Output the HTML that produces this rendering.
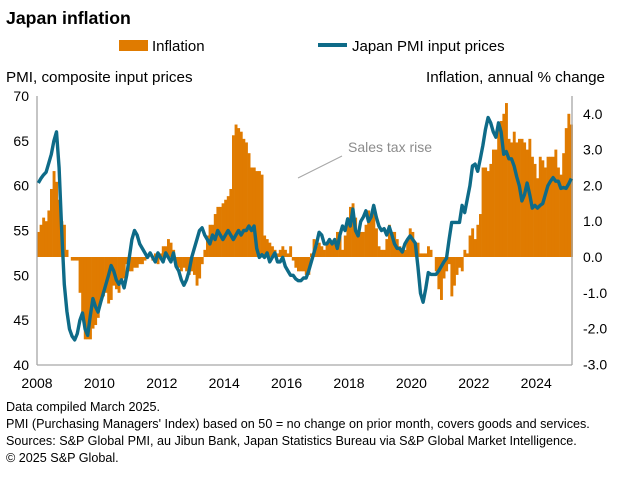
<!DOCTYPE html>
<html><head><meta charset="utf-8"><style>
body{margin:0;background:#fff;width:632px;height:489px;overflow:hidden;font-family:"Liberation Sans",Arial,sans-serif}
svg text{font-family:"Liberation Sans",Arial,sans-serif}
</style></head><body>
<svg id="chart" width="632" height="489" viewBox="0 0 632 489" xmlns="http://www.w3.org/2000/svg">
<text x="6" y="24" font-size="17.7" font-weight="bold" fill="#000">Japan inflation</text>
<g>
<rect x="119" y="40" width="29" height="11" fill="#e07b00"/>
<text x="152" y="51" font-size="15" fill="#000">Inflation</text>
<line x1="318" y1="45" x2="347" y2="45" stroke="#0e6b88" stroke-width="4"/>
<text x="352" y="51" font-size="15" fill="#000">Japan PMI input prices</text>
</g>
<text x="6" y="82" font-size="15.2" fill="#000">PMI, composite input prices</text>
<text x="605" y="82" font-size="15.2" text-anchor="end" fill="#000">Inflation, annual % change</text>
<g id="bars"></g>
<g id="axes"></g>
<path id="pmiLine" fill="none" stroke="#0e6b88" stroke-width="3.4" stroke-linejoin="round"/>
<line x1="298" y1="178" x2="342" y2="156" stroke="#a6a6a6" stroke-width="1"/>
<text x="348" y="152" font-size="14" fill="#8c8c8c">Sales tax rise</text>
<g font-size="12.6" fill="#000">
<text x="6" y="411">Data compiled March 2025.</text>
<text x="6" y="428">PMI (Purchasing Managers' Index) based on 50 = no change on prior month, covers goods and services.</text>
<text x="6" y="445">Sources: S&amp;P Global PMI, au Jibun Bank, Japan Statistics Bureau via S&amp;P Global Market Intelligence.</text>
<text x="6" y="462">© 2025 S&amp;P Global.</text>
</g>
</svg>
<script>
const pmi = [
60.3,60.8,61.2,61.5,62.5,63.5,65,66,62,55,49,46,
44,43.2,42.8,43.5,45,45.8,44,43.3,45.5,47.4,46.5,45.9,
47,48,49,50,51.1,50.5,49.5,49,49.5,48.6,50,52,
54,55,54.5,53.5,53,52.5,52,52.5,52,51.5,52.5,52,
51.5,52.5,52,51.5,52.5,51,50.5,49.5,48.9,49.5,50.5,52,
53,54,55,55.3,54.5,54,53.5,54.5,54,55,54.5,54,
54.5,55,54.5,54,54.5,55,54.5,55,55,55.5,55,55.5,
53,52,52.3,52,52.5,51.5,52,52.5,51.5,51.5,52,51,
50.5,50,50,49.6,49.4,49.4,49.7,49.7,50.5,51.5,52.5,53.5,
54.8,54.5,53.5,53.5,54,53.5,54,53,54.5,55.5,55,56.3,
55.5,57.4,55,54.4,56,56.5,57.2,56,56.5,57.8,56.5,55.5,
55,55.2,54.5,55.4,54.5,53.5,53,53,52.6,53.5,54,54.4,
54,53.6,51,48,47,48.5,50.3,50.1,50.1,50.1,50.5,51,
51.5,51.9,54,55.9,55.9,55.9,55.9,57.8,57,58.5,60,62.2,
62.4,61.6,63,64.5,66.3,67.6,67,66,65.4,67,66,63.5,
63.8,63,63,62.2,61,60,58.3,59,60.3,59,57.5,57.8,
57.5,57.8,58,59,60,60.5,60.9,60.5,60.5,59.7,59.8,59.7,
60.2,60.8];
const inflation = [
0.7,0.9,1.1,1.0,1.3,1.9,2.4,2.1,1.6,1.0,0.9,0.2,
0.0,-0.1,-0.1,-0.1,-1.0,-1.6,-2.3,-2.3,-2.3,-2.0,-1.9,-1.7,
-1.2,-1.1,-1.0,-1.3,-1.2,-0.8,-0.9,-1.0,-0.7,-0.6,-0.2,-0.4,
-0.4,-0.3,-0.3,-0.2,-0.2,-0.1,0.0,0.0,-0.1,0.1,-0.2,0.1,
0.3,0.3,0.5,0.4,0.2,-0.2,-0.3,-0.4,-0.3,-0.4,-0.5,-0.4,
-0.5,-0.8,-0.6,-0.2,0.2,0.6,0.9,0.9,1.2,1.4,1.4,1.5,
1.6,1.7,1.9,3.4,3.7,3.6,3.5,3.3,3.2,2.9,2.5,2.5,
2.4,2.4,2.3,0.6,0.5,0.4,0.3,0.2,0.1,0.2,0.3,0.2,
0.1,0.3,-0.1,-0.3,-0.4,-0.4,-0.4,-0.5,-0.5,0.1,0.5,0.3,
0.4,0.3,0.2,0.4,0.4,0.4,0.4,0.7,0.7,0.2,0.6,1.0,
1.4,1.5,1.1,0.6,0.7,0.7,0.9,1.3,1.2,1.4,0.8,0.3,
0.2,0.2,0.5,0.9,0.7,0.7,0.5,0.3,0.2,0.2,0.5,0.8,
0.7,0.4,0.4,0.1,0.1,0.1,0.3,0.2,0.0,-0.4,-0.9,-1.2,
-0.6,-0.4,-0.2,-1.1,-0.8,-0.5,-0.3,-0.4,0.2,0.1,0.6,0.8,
0.5,0.9,1.2,2.5,2.5,2.4,2.6,3.0,3.0,3.7,3.8,4.0,
4.3,3.3,3.2,3.5,3.2,3.3,3.3,3.2,3.0,3.3,2.8,2.6,
2.2,2.8,2.7,2.5,2.8,2.8,2.8,3.0,2.5,2.3,2.9,3.6,
4.0,3.7];
const leftTicks = [40,45,50,55,60,65,70];
const rightTicks = [-3,-2,-1,0,1,2,3,4];
const yearTicks = [2008,2010,2012,2014,2016,2018,2020,2022,2024];

const X0=37, X1=572, YB=365, YT=96, MW=2.6;
const xMonth = i => X0 + i*MW;
const xYear = yr => X0 + (yr-2008)*12*MW;
const yL = v => YB - (v-40)*(YB-YT)/30;
const yR = v => 257 - v*35.8;
const NS="http://www.w3.org/2000/svg";
function mk(tag, attrs){const e=document.createElementNS(NS,tag);for(const k in attrs)e.setAttribute(k,attrs[k]);return e;}

const bars=document.getElementById('bars');
inflation.forEach((v,i)=>{
  const y0=yR(0), y1=yR(v);
  const r=mk('rect',{x:xMonth(i),y:Math.min(y0,y1),width:MW+0.3,height:Math.abs(y1-y0),fill:'#e07b00'});
  
  
  bars.appendChild(r);
});

let d='';
pmi.forEach((v,i)=>{d+=(i?'L':'M')+(xMonth(i)+MW/2).toFixed(1)+','+yL(v).toFixed(1);});
document.getElementById('pmiLine').setAttribute('d',d);

const axes=document.getElementById('axes');
const ax=[[X0,YT,X0,YB],[X0,YB,X1,YB],[X1,YT,X1,YB]];
ax.forEach(a=>{
  const l=mk('line',{x1:a[0],y1:a[1],x2:a[2],y2:a[3],stroke:'#a6a6a6','stroke-width':1.3});
  
  
  axes.appendChild(l);
});
leftTicks.forEach(v=>{
  const t=mk('text',{x:29,y:yL(v)+5,'font-size':14,'text-anchor':'end',fill:'#000'});
  t.textContent=v;
  
  
  axes.appendChild(t);
});
rightTicks.forEach(v=>{
  const t=mk('text',{x:583,y:yR(v)+5,'font-size':14,fill:'#000'});
  t.textContent=v.toFixed(1);
  
  
  axes.appendChild(t);
});
yearTicks.forEach(yr=>{
  const t=mk('text',{x:xYear(yr),y:388,'font-size':14,'text-anchor':'middle',fill:'#000'});
  t.textContent=yr;
  
  
  axes.appendChild(t);
});
</script>
</body></html>
